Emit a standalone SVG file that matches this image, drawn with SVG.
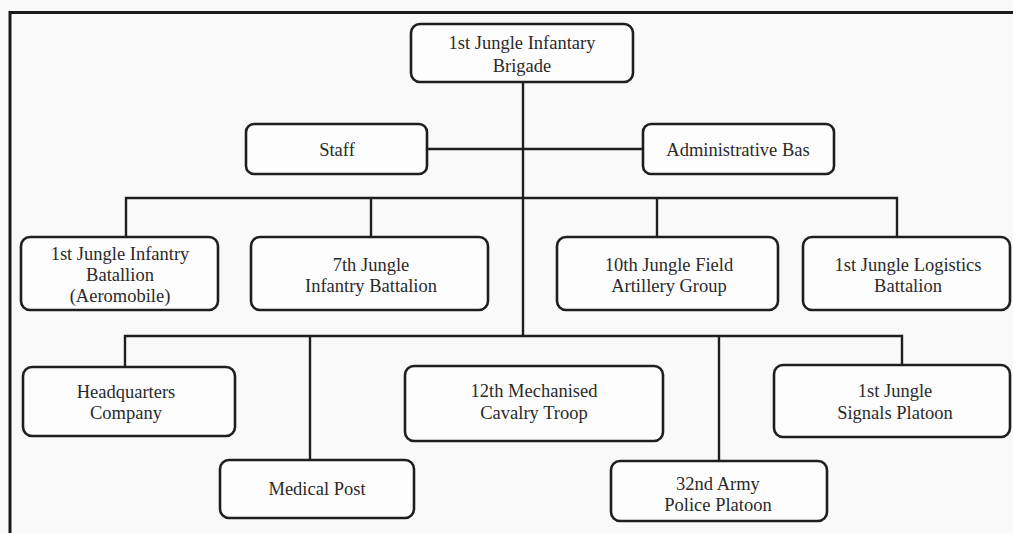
<svg xmlns="http://www.w3.org/2000/svg" width="1013" height="533" viewBox="0 0 1013 533">
  <style>
    .box { fill: #fdfdfd; stroke: #1e1e1e; stroke-width: 2.6; }
    .wire { fill: none; stroke: #1e1e1e; stroke-width: 2.4; }
    .frame { fill: none; stroke: #1a1a1a; stroke-width: 3; }
    text { font-family: "Liberation Serif", "Times New Roman", serif; font-size: 18.5px; fill: #2a2a2a; text-anchor: middle; }
  </style>
  <rect width="1013" height="533" fill="#f9f9f9"/>
  <!-- page frame: top and left rules -->
  <path class="frame" d="M10 533 V12.5 H1013"/>

  <g id="connectors">
    <!-- brigade trunk -->
    <path class="wire" d="M523 82 V336"/>
    <!-- staff / admin link -->
    <path class="wire" d="M427 149 H643"/>
    <!-- battalion row -->
    <path class="wire" d="M126 236 V198 H897 V236"/>
    <path class="wire" d="M371 198 V236"/>
    <path class="wire" d="M657 198 V236"/>
    <!-- company / platoon row -->
    <path class="wire" d="M125 367 V336 H902 V365"/>
    <path class="wire" d="M310 336 V460"/>
    <path class="wire" d="M719 336 V461"/>
  </g>

  <g id="brigade">
    <rect class="box" x="411" y="24" width="222" height="58" rx="9"/>
    <text x="522" y="49">1st Jungle Infantary</text>
    <text x="522" y="72">Brigade</text>
  </g>
  <g id="staff">
    <rect class="box" x="246" y="124" width="181" height="50" rx="8"/>
    <text x="337" y="156">Staff</text>
  </g>
  <g id="admin-base">
    <rect class="box" x="643" y="124" width="191" height="50" rx="8"/>
    <text x="738" y="156">Administrative Bas</text>
  </g>

  <g id="infantry-aeromobile">
    <rect class="box" x="21" y="237" width="197" height="73" rx="9"/>
    <text x="120" y="260">1st Jungle Infantry</text>
    <text x="120" y="281">Batallion</text>
    <text x="120" y="302">(Aeromobile)</text>
  </g>
  <g id="infantry-7th">
    <rect class="box" x="251" y="237" width="237" height="73" rx="9"/>
    <text x="371" y="271">7th Jungle</text>
    <text x="371" y="292">Infantry Battalion</text>
  </g>
  <g id="field-artillery">
    <rect class="box" x="557" y="237" width="221" height="73" rx="9"/>
    <text x="669" y="271">10th Jungle Field</text>
    <text x="669" y="292">Artillery Group</text>
  </g>
  <g id="logistics">
    <rect class="box" x="803" y="237" width="207" height="73" rx="9"/>
    <text x="908" y="271">1st Jungle Logistics</text>
    <text x="908" y="292">Battalion</text>
  </g>

  <g id="hq-company">
    <rect class="box" x="23" y="367" width="212" height="69" rx="9"/>
    <text x="126" y="398">Headquarters</text>
    <text x="126" y="419">Company</text>
  </g>
  <g id="cavalry">
    <rect class="box" x="405" y="366" width="258" height="75" rx="9"/>
    <text x="534" y="397">12th Mechanised</text>
    <text x="534" y="419">Cavalry Troop</text>
  </g>
  <g id="signals">
    <rect class="box" x="774" y="365" width="236" height="72" rx="9"/>
    <text x="895" y="397">1st Jungle</text>
    <text x="895" y="419">Signals Platoon</text>
  </g>
  <g id="medical-post">
    <rect class="box" x="220" y="460" width="194" height="58" rx="9"/>
    <text x="317" y="495">Medical Post</text>
  </g>
  <g id="military-police">
    <rect class="box" x="611" y="461" width="216" height="60" rx="9"/>
    <text x="718" y="490">32nd Army</text>
    <text x="718" y="511">Police Platoon</text>
  </g>
</svg>
